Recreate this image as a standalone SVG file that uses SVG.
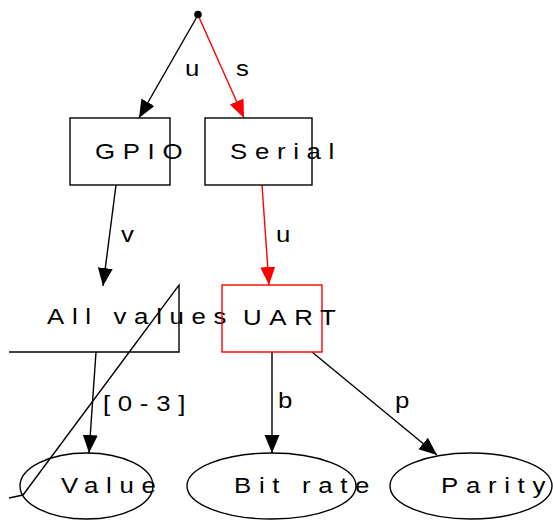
<svg xmlns="http://www.w3.org/2000/svg" width="553" height="520" viewBox="0 0 553 520">
<style>
  .lbl { font-family: "Liberation Sans", Arial, sans-serif; font-size: 21.5px; letter-spacing: 6.4px; fill: #000; }
  .box { fill: none; stroke: #000; stroke-width: 1.4; }
  .red { stroke: #ff0000; }
  .edge { fill: none; stroke: #000; stroke-width: 1.4; }
  .edge.red { stroke: #ff0000; }
</style>
<defs>
  <marker id="ah" viewBox="0 -8 18 16" refX="18" refY="0" markerWidth="18" markerHeight="16" markerUnits="userSpaceOnUse" orient="auto">
    <path d="M0,-7.5 L18,0 L0,7.5 z" fill="#000"/>
  </marker>
  <marker id="ahr" viewBox="0 -8 18 16" refX="18" refY="0" markerWidth="18" markerHeight="16" markerUnits="userSpaceOnUse" orient="auto">
    <path d="M0,-7.5 L18,0 L0,7.5 z" fill="#ff0000"/>
  </marker>
</defs>

<g id="connectors">
  <line class="edge" x1="198" y1="15" x2="139" y2="118" marker-end="url(#ah)"/>
  <text class="lbl" transform="translate(185,76) scale(1.2,1)">u</text>
  <line class="edge red" x1="198" y1="15" x2="244" y2="118" marker-end="url(#ahr)"/>
  <text class="lbl" transform="translate(236,76) scale(1.2,1)">s</text>
  <line class="edge" x1="116" y1="185" x2="103" y2="286" marker-end="url(#ah)"/>
  <text class="lbl" transform="translate(121,242) scale(1.2,1)">v</text>
  <line class="edge red" x1="262" y1="185" x2="269" y2="285" marker-end="url(#ahr)"/>
  <text class="lbl" transform="translate(276,242) scale(1.2,1)">u</text>
  <line class="edge" x1="96" y1="352" x2="89" y2="453" marker-end="url(#ah)"/>
  <text class="lbl" transform="translate(103,411) scale(1.2,1)">[0-3]</text>
  <line class="edge" x1="272" y1="352" x2="272" y2="453" marker-end="url(#ah)"/>
  <text class="lbl" transform="translate(278,408) scale(1.2,1)">b</text>
  <line class="edge" x1="312" y1="352" x2="437" y2="455" marker-end="url(#ah)"/>
  <text class="lbl" transform="translate(395,408) scale(1.2,1)">p</text>
</g>

<g id="root">
  <circle cx="198" cy="14.5" r="3.8" fill="#000"/>
</g>

<g id="gpio">
  <rect class="box" x="70" y="118" width="100" height="67"/>
  <text class="lbl" transform="translate(95,159) scale(1.2,1)">GPIO</text>
</g>

<g id="serial">
  <rect class="box" x="205" y="118" width="107" height="67"/>
  <text class="lbl" transform="translate(230,159) scale(1.2,1)">Serial</text>
</g>

<g id="allvalues">
  <polyline class="box" points="9,498 23,495 179,285 179,352 9,352"/>
  <text class="lbl" transform="translate(47,324) scale(1.2,1)">All values</text>
</g>

<g id="uart">
  <rect class="box red" x="222" y="285" width="100" height="67"/>
  <text class="lbl" transform="translate(243,325) scale(1.2,1)">UART</text>
</g>

<g id="value">
  <ellipse class="box" cx="86.5" cy="486" rx="66.5" ry="33"/>
  <text class="lbl" transform="translate(61,493) scale(1.2,1)">Value</text>
</g>

<g id="bitrate">
  <ellipse class="box" cx="271.5" cy="486" rx="84.5" ry="33"/>
  <text class="lbl" transform="translate(234,493) scale(1.2,1)">Bit rate</text>
</g>

<g id="parity">
  <ellipse class="box" cx="471" cy="486" rx="81" ry="33"/>
  <text class="lbl" transform="translate(441,493) scale(1.2,1)">Parit<tspan style="letter-spacing:0">y</tspan></text>
</g>
</svg>
